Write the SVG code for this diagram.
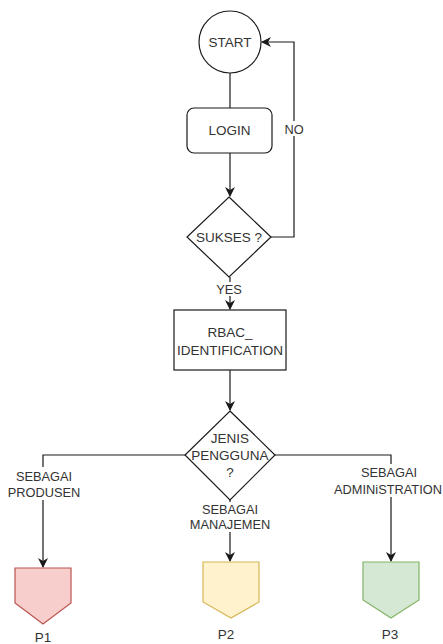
<svg xmlns="http://www.w3.org/2000/svg" width="443" height="644" viewBox="0 0 443 644">
  <style>
    .shape { fill: #ffffff; stroke: #1a1a1a; stroke-width: 1.2; }
    .edge { fill: none; stroke: #1a1a1a; stroke-width: 1.2; }
    .txt { font-family: "Liberation Sans", Arial, sans-serif; font-size: 13.5px; fill: #333333; text-anchor: middle; dominant-baseline: central; }
    .lbl { font-family: "Liberation Sans", Arial, sans-serif; font-size: 12.8px; fill: #333333; text-anchor: middle; dominant-baseline: central; }
  </style>
  <defs>
    <marker id="arrow" viewBox="0 0 10 10" refX="9" refY="5" markerWidth="10" markerHeight="10" markerUnits="userSpaceOnUse" orient="auto">
      <path d="M0,0 L10,5 L0,10 L3,5 Z" fill="#1a1a1a"/>
    </marker>
  </defs>
  <rect width="443" height="644" fill="#ffffff"/>

  <g id="connectors">
    <path class="edge" d="M230,73 V108"/>
    <path class="edge" d="M230,153 V196" marker-end="url(#arrow)"/>
    <path class="edge" d="M271,237 H294 V42 H262" marker-end="url(#arrow)"/>
    <path class="edge" d="M230,277 V309" marker-end="url(#arrow)"/>
    <path class="edge" d="M230,370 V410" marker-end="url(#arrow)"/>
    <path class="edge" d="M185,455 H43 V567" marker-end="url(#arrow)"/>
    <path class="edge" d="M230,500 V561" marker-end="url(#arrow)"/>
    <path class="edge" d="M275,455 H391 V561" marker-end="url(#arrow)"/>
    <!-- edge labels on white backing -->
    <rect x="285" y="121" width="18" height="15" fill="#ffffff"/>
    <text class="lbl" x="294" y="129">NO</text>
    <rect x="215" y="282" width="30" height="14" fill="#ffffff"/>
    <text class="lbl" x="229" y="289">YES</text>
    <rect x="8" y="467" width="72" height="33" fill="#ffffff"/>
    <text class="lbl" x="44" y="476">SEBAGAI</text>
    <text class="lbl" x="44" y="492">PRODUSEN</text>
    <rect x="188" y="502" width="84" height="30" fill="#ffffff"/>
    <text class="lbl" x="230" y="509">SEBAGAI</text>
    <text class="lbl" x="230" y="524">MANAJEMEN</text>
    <rect x="332" y="464" width="111" height="33" fill="#ffffff"/>
    <text class="lbl" x="389" y="472">SEBAGAI</text>
    <text class="lbl" x="388" y="489">ADMINiSTRATION</text>
  </g>

  <g id="start">
    <circle class="shape" cx="230" cy="42" r="31"/>
    <text class="txt" x="230" y="42">START</text>
  </g>

  <g id="login">
    <rect class="shape" x="187" y="108" width="85" height="45" rx="7"/>
    <text class="txt" x="229.5" y="130">LOGIN</text>
  </g>

  <g id="sukses">
    <polygon class="shape" points="229,197 271,237 229,277 187,237"/>
    <text class="txt" x="229" y="237">SUKSES ?</text>
  </g>

  <g id="rbac">
    <rect class="shape" x="174" y="310" width="112" height="60"/>
    <text class="txt" x="230" y="332">RBAC_</text>
    <text class="txt" x="230" y="350">IDENTIFICATION</text>
  </g>

  <g id="jenis">
    <polygon class="shape" points="230,411 275,455 230,500 185,455"/>
    <text class="txt" x="230" y="438">JENIS</text>
    <text class="txt" x="230" y="455">PENGGUNA</text>
    <text class="txt" x="230" y="472">?</text>
  </g>

  <g id="p1">
    <polygon points="15,568 71,568 71,603 43,624 15,603" fill="#f8cecc" stroke="#b85450" stroke-width="1.2"/>
    <text class="txt" x="43" y="637">P1</text>
  </g>

  <g id="p2">
    <polygon points="203,562 259,562 259,602 231,618 203,602" fill="#fff2cc" stroke="#d6b656" stroke-width="1.2"/>
    <text class="txt" x="226" y="634">P2</text>
  </g>

  <g id="p3">
    <polygon points="363,562 419,562 419,600 391,618 363,600" fill="#d5e8d4" stroke="#82b366" stroke-width="1.2"/>
    <text class="txt" x="390" y="634">P3</text>
  </g>
</svg>
